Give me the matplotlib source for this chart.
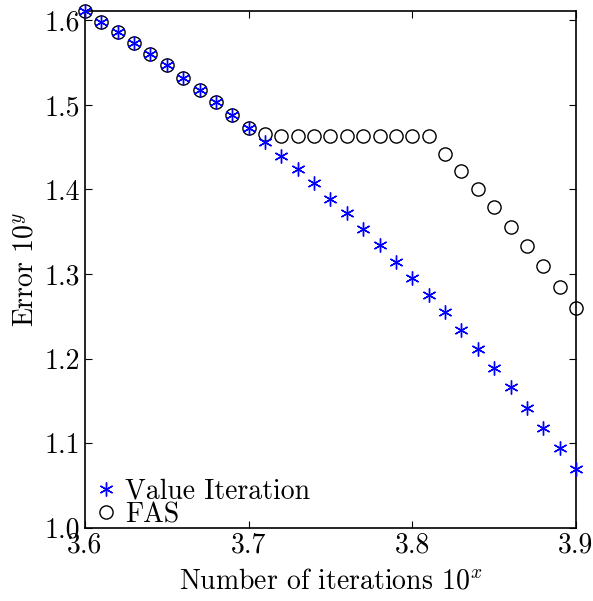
import matplotlib
matplotlib.use("Agg")
import matplotlib.pyplot as plt

plt.rcParams['font.family'] = 'serif'
plt.rcParams['font.serif'] = ['cmr10']
plt.rcParams['mathtext.fontset'] = 'cm'
plt.rcParams['axes.formatter.use_mathtext'] = True

# log10 of iterations
iters = [3.60, 3.61, 3.62, 3.63, 3.64, 3.65, 3.66, 3.67, 3.68, 3.69, 3.70,
         3.71, 3.72, 3.73, 3.74, 3.75, 3.76, 3.77, 3.78, 3.79, 3.80,
         3.81, 3.82, 3.83, 3.84, 3.85, 3.86, 3.87, 3.88, 3.89, 3.90]

# log10 of error, value iteration
err_vi = [1.611, 1.598, 1.586, 1.573, 1.560, 1.547, 1.532, 1.518, 1.503, 1.488, 1.473,
          1.456, 1.440, 1.424, 1.407, 1.389, 1.372, 1.353, 1.334, 1.314, 1.295,
          1.275, 1.255, 1.234, 1.211, 1.189, 1.166, 1.142, 1.118, 1.094, 1.069]

# log10 of error, FAS
err_fas = [1.611, 1.598, 1.586, 1.573, 1.560, 1.547, 1.532, 1.518, 1.503, 1.488, 1.473,
           1.466, 1.463, 1.463, 1.463, 1.463, 1.463, 1.463, 1.463, 1.463, 1.463,
           1.463, 1.442, 1.422, 1.400, 1.379, 1.356, 1.333, 1.309, 1.285, 1.260]

fig = plt.figure(figsize=(5.93, 6.01), dpi=100)
ax = fig.add_axes([0.1433, 0.1221, 0.828, 0.8596])

ax.plot(iters, err_vi, linestyle='none', marker=(6, 2, 0), markersize=10,
        color='blue', markeredgewidth=1.0, label='Value Iteration', clip_on=False, zorder=3)
ax.plot(iters, err_fas, linestyle='none', marker='o', markersize=9.5,
        markerfacecolor='none', markeredgecolor='black', markeredgewidth=1.0,
        label='FAS', clip_on=False, zorder=2)

ax.set_xlim(3.6, 3.9)
ax.set_ylim(1.0, 1.611)
ax.set_xticks([3.6, 3.7, 3.8, 3.9])
ax.set_xticklabels(['3.6', '3.7', '3.8', '3.9'])
ax.set_yticks([1.0, 1.1, 1.2, 1.3, 1.4, 1.5, 1.6])
ax.set_yticklabels(['1.0', '1.1', '1.2', '1.3', '1.4', '1.5', '1.6'])
ax.tick_params(direction='in', top=True, right=True, labelsize=20, length=5, width=0.8)
for s in ax.spines.values():
    s.set_linewidth(1.2)

ax.set_xlabel(r'Number of iterations $10^x$', fontsize=20, labelpad=7)
ax.set_ylabel(r'Error $10^y$', fontsize=20, labelpad=4)

ax.legend(loc='lower left', bbox_to_anchor=(0.02, -0.001), frameon=False,
          fontsize=20, handlelength=0.8, handletextpad=0.3, borderpad=0,
          borderaxespad=0, labelspacing=-0.1, numpoints=1)

fig.savefig('out.png', dpi=100)
